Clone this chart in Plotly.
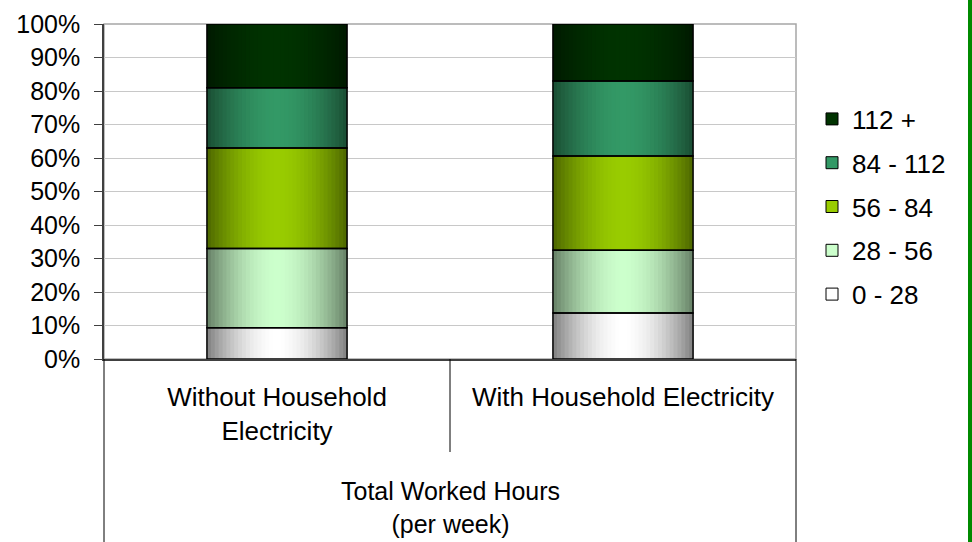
import plotly.graph_objects as go

# ---------------- data ----------------
categories = ["Without Household<br>Electricity", "With Household Electricity"]
group_label = "Total Worked Hours<br>(per week)"
series_names = ["0 - 28", "28 - 56", "56 - 84", "84 - 112", "112 +"]
vals_0_28 = [9.3, 13.7]
vals_28_56 = [23.7, 18.8]
vals_56_84 = [30.0, 28.1]
vals_84_112 = [18.0, 22.4]
vals_112_plus = [19.0, 17.0]
series_values = [vals_0_28, vals_28_56, vals_56_84, vals_84_112, vals_112_plus]
center_colors = ["#FFFFFF", "#CCFFCC", "#99CC00", "#339966", "#003300"]
y_ticks = list(range(0, 101, 10))
y_tick_text = [f"{v}%" for v in y_ticks]

# ---------------- style ----------------
W, H = 972, 542
L, R, T, B = 104, 176, 24, 183
PW, PH = W - L - R, H - T - B
FONT = "Liberation Sans, Arial, sans-serif"
FS = 26
BAR_W = 0.405
N_STEPS = 18


def hex_to_rgb(h):
    h = h.lstrip("#")
    return tuple(int(h[i:i + 2], 16) for i in (0, 2, 4))


def shade(center_hex, t):
    c = hex_to_rgb(center_hex)
    e = tuple(v * 0.5 for v in c)
    f = t ** 1.8
    r = [round(c[i] + (e[i] - c[i]) * f) for i in range(3)]
    return "rgb(%d,%d,%d)" % tuple(r)


fig = go.Figure()

# cumulative bases
bases = []
run = [0.0] * len(categories)
for vals in series_values:
    bases.append(list(run))
    run = [run[i] + vals[i] for i in range(len(vals))]

# gradient fill layers (outer = dark, inner = light)
for s, vals in enumerate(series_values):
    for k in range(N_STEPS):
        width = BAR_W * (1 - k / N_STEPS)
        t = 1 - (k + 0.5) / N_STEPS
        fig.add_trace(go.Bar(
            x=categories, y=vals, base=bases[s], width=width,
            marker=dict(color=shade(center_colors[s], t), line=dict(width=0)),
            showlegend=False, hoverinfo="skip",
        ))

# outlines on top
for s, vals in enumerate(series_values):
    fig.add_trace(go.Bar(
        x=categories, y=vals, base=bases[s], width=BAR_W,
        marker=dict(color="rgba(0,0,0,0)", line=dict(color="black", width=1.5)),
        showlegend=False, name=series_names[s],
    ))

# legend entries
for s, name in enumerate(series_names):
    fig.add_trace(go.Bar(
        x=[categories[0]], y=[None], name=name, legendgroup=name,
        legendrank=len(series_names) - s,
        marker=dict(color=center_colors[s], line=dict(color="black", width=1)),
        showlegend=True,
    ))

def px_x(x):
    return (x - L) / PW

def px_y(y):
    return (T + PH - y) / PH

shapes = [
    dict(type="rect", xref="paper", yref="paper", x0=0, x1=1, y0=0, y1=1,
         line=dict(color="#a6a6a6", width=1.5), layer="below"),
    dict(type="line", xref="paper", yref="paper", x0=0, x1=0, y0=0, y1=px_y(H),
         line=dict(color="black", width=1)),
    dict(type="line", xref="paper", yref="paper", x0=1, x1=1, y0=0, y1=px_y(H),
         line=dict(color="black", width=1)),
    dict(type="line", xref="x", yref="paper", x0=0.5, x1=0.5, y0=0, y1=px_y(452),
         line=dict(color="black", width=1)),
    dict(type="line", xref="paper", yref="paper", x0=px_x(970), x1=px_x(970),
         y0=px_y(H + 5), y1=px_y(-5), line=dict(color="#008a00", width=4)),
]

fig.update_layout(
    width=W, height=H,
    margin=dict(l=L, r=R, t=T, b=B, pad=0, autoexpand=False),
    paper_bgcolor="white", plot_bgcolor="white",
    barmode="overlay",
    font=dict(family=FONT, size=FS, color="black"),
    showlegend=True,
    legend=dict(x=px_x(812), xanchor="left", y=px_y(207), yanchor="middle",
                traceorder="grouped", tracegroupgap=7,
                font=dict(size=FS), bgcolor="rgba(0,0,0,0)"),
    shapes=shapes,
    annotations=[dict(text=group_label, xref="paper", yref="paper",
                      x=0.5, y=px_y(507), xanchor="center", yanchor="middle",
                      showarrow=False, font=dict(size=FS - 1))],
    xaxis=dict(type="category", showline=True, linecolor="#404040", linewidth=2,
               ticks="", ticklabelstandoff=14, showgrid=False, automargin=False,
               tickfont=dict(size=FS), range=[-0.5, 1.5]),
    yaxis=dict(range=[0, 100], tickmode="array", tickvals=y_ticks, ticktext=y_tick_text,
               showgrid=True, gridcolor="#c8c8c8", gridwidth=1, automargin=False,
               showline=True, linecolor="#404040", linewidth=1.5,
               ticks="outside", ticklen=8, tickcolor="#404040",
               ticklabelstandoff=9, zeroline=False, tickfont=dict(size=FS - 1)),
)

fig.write_html("out.html")
